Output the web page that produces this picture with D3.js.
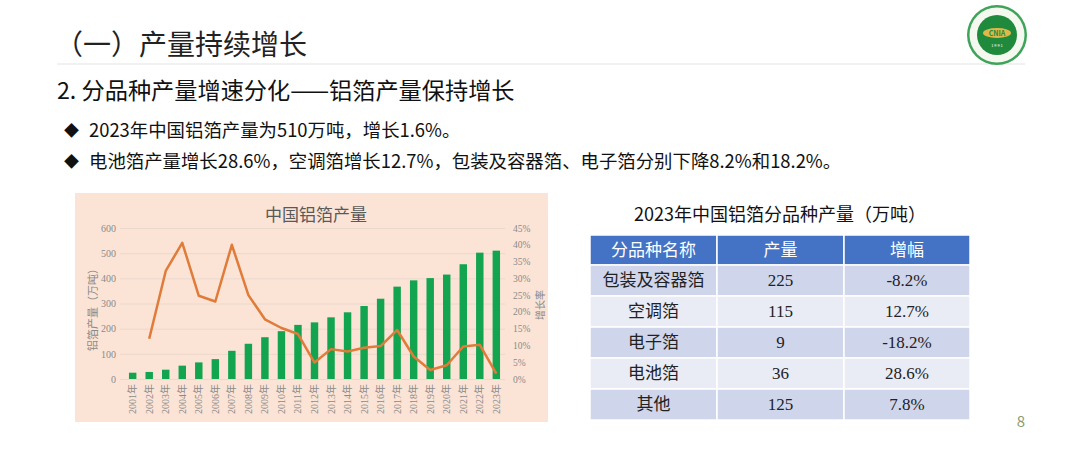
<!DOCTYPE html>
<html>
<head>
<meta charset="utf-8">
<script src="https://cdn.jsdelivr.net/npm/d3@7"></script>
<style>
  body { margin: 0; background: #fff; }
  svg { display: block; }
</style>
</head>
<body>
<svg id="slide" width="1080" height="450"></svg>
<script>
// chart data
const years = ['2001年','2002年','2003年','2004年','2005年','2006年','2007年','2008年','2009年','2010年','2011年','2012年',
  '2013年','2014年','2015年','2016年','2017年','2018年','2019年','2020年','2021年','2022年','2023年']
const output = [25, 28, 37, 53, 66, 79, 112, 140, 166, 190, 215, 225, 245, 265, 290, 319, 367, 392, 401, 415, 456, 502, 510]
// growth rate in %, no value for 2001
const growth = [null, 12.0, 32.2, 40.6, 24.8, 23.1, 40.0, 25.0, 17.8, 15.2, 13.4, 4.9, 8.9, 8.2, 9.3, 9.8, 14.6, 6.7, 2.7, 4.1, 9.7, 10.2, 1.6]
const leftTicks = [0, 100, 200, 300, 400, 500, 600]
const rightTicks = [0, 5, 10, 15, 20, 25, 30, 35, 40, 45]

// table data
const tableHead = ['分品种名称', '产量', '增幅']
const kinds = ['包装及容器箔', '空调箔', '电子箔', '电池箔', '其他']
const kindOutput = [225, 115, 9, 36, 125]
const kindGrowth = ['-8.2%', '12.7%', '-18.2%', '28.6%', '7.8%']

const bullets = ['2023年中国铝箔产量为510万吨，增长1.6%。',
  '电池箔产量增长28.6%，空调箔增长12.7%，包装及容器箔、电子箔分别下降8.2%和18.2%。']

const sans = '"Noto Sans CJK SC", "Noto Sans", sans-serif'
const serif = '"Liberation Serif", "DejaVu Serif", "Noto Sans CJK SC", serif'

const svg = d3.select('#slide')

// ---- slide header
svg.append('text')
  .attr('x', 55).attr('y', 55)
  .attr('font-family', sans).attr('font-size', 28).attr('fill', '#222')
  .text('（一）产量持续增长')

svg.append('line')
  .attr('x1', 57).attr('x2', 1025).attr('y1', 64).attr('y2', 64)
  .attr('stroke', '#e3e3e3').attr('stroke-width', 1)

svg.append('text')
  .attr('x', 57).attr('y', 99)
  .attr('font-family', sans).attr('font-size', 23.2).attr('fill', '#111')
  .text('2. 分品种产量增速分化——铝箔产量保持增长')

bullets.forEach((b, i) => {
  let y = 137 + i * 31
  svg.append('text')
    .attr('x', 64).attr('y', y - 1)
    .attr('font-family', sans).attr('font-size', 15).attr('fill', '#111')
    .text('◆')
  svg.append('text')
    .attr('x', 89).attr('y', y)
    .attr('font-family', sans).attr('font-size', 18.4).attr('fill', '#111')
    .text(b)
})

// logo
let logo = svg.append('g').attr('transform', 'translate(997, 35)')
logo.append('circle').attr('r', 30).attr('fill', '#3fa45a')
logo.append('circle').attr('r', 27.5).attr('fill', '#f4f8ef')
logo.append('circle').attr('r', 20).attr('fill', '#1f8a3c')
logo.append('ellipse').attr('rx', 14).attr('ry', 5).attr('cy', -2).attr('fill', '#e0b84a')
logo.append('text').attr('y', 1).attr('text-anchor', 'middle')
  .attr('font-family', sans).attr('font-size', 7).attr('font-weight', 'bold').attr('fill', '#1f8a3c')
  .text('CNIA')
logo.append('text').attr('y', 12).attr('text-anchor', 'middle')
  .attr('font-family', sans).attr('font-size', 4).attr('fill', '#fff')
  .text('1 9 9 1')

// page number
svg.append('text')
  .attr('x', 1021).attr('y', 427).attr('text-anchor', 'middle')
  .attr('font-family', sans).attr('font-size', 15).attr('fill', '#8c9a70')
  .text('8')

// ---- combo chart
const panel = { x: 75, y: 193, w: 473, h: 229 }
svg.append('rect')
  .attr('x', panel.x).attr('y', panel.y).attr('width', panel.w).attr('height', panel.h)
  .attr('fill', '#fbe4d6')

const plot = { left: 120, right: 505, top: 228, bottom: 379 }

let x = d3.scaleBand()
  .domain(years)
  .range([124, plot.right])
  .paddingInner(0.55)
  .paddingOuter(0.3)
let yL = d3.scaleLinear().domain([0, 600]).range([plot.bottom, plot.top])
let yR = d3.scaleLinear().domain([0, 45]).range([plot.bottom, plot.top])

// gridlines + left axis
let leftAxis = d3.axisLeft(yL)
  .tickValues(leftTicks)
  .tickSizeInner(-(plot.right - plot.left))
  .tickSizeOuter(0)
  .tickPadding(4)
let gl = svg.append('g')
  .attr('transform', `translate(${plot.left}, 0)`)
  .call(leftAxis)
gl.select('.domain').remove()
gl.selectAll('line').attr('stroke', '#ead8cc').attr('stroke-width', 1)
gl.selectAll('text')
  .attr('font-family', serif).attr('font-size', 10).attr('fill', '#8a8a8a')

let rightAxis = d3.axisRight(yR)
  .tickValues(rightTicks)
  .tickFormat(d => d + '%')
  .tickSize(0)
  .tickPadding(8)
let gr = svg.append('g')
  .attr('transform', `translate(${plot.right}, 0)`)
  .call(rightAxis)
gr.select('.domain').remove()
gr.selectAll('text')
  .attr('font-family', serif).attr('font-size', 9.5).attr('fill', '#8a8a8a')

// bars
svg.append('g').selectAll('rect')
  .data(output)
  .join('rect')
  .attr('x', (d, i) => x(years[i]))
  .attr('y', d => yL(d))
  .attr('width', x.bandwidth())
  .attr('height', d => yL(0) - yL(d))
  .attr('fill', '#12a44f')

// growth line
let line = d3.line()
  .defined(d => d != null)
  .x((d, i) => x(years[i]) + x.bandwidth() / 2)
  .y(d => yR(d))
svg.append('path')
  .attr('d', line(growth))
  .attr('fill', 'none')
  .attr('stroke', '#e07b3a')
  .attr('stroke-width', 2.5)
  .attr('stroke-linejoin', 'round')

// x axis labels, rotated
let xAxis = d3.axisBottom(x).tickSize(0).tickPadding(0)
let gx = svg.append('g')
  .attr('transform', `translate(0, ${plot.bottom + 5})`)
  .call(xAxis)
gx.select('.domain').remove()
gx.selectAll('text')
  .attr('font-family', serif).attr('font-size', 10).attr('fill', '#8a8a8a')
  .attr('transform', 'rotate(-90)')
  .attr('text-anchor', 'end')
  .attr('dy', '0.35em')
  .attr('x', 0).attr('y', 0)

// titles
svg.append('text')
  .attr('x', 316).attr('y', 221).attr('text-anchor', 'middle')
  .attr('font-family', sans).attr('font-size', 17).attr('fill', '#595959')
  .text('中国铝箔产量')

svg.append('text')
  .attr('transform', 'translate(93, 307) rotate(-90)')
  .attr('text-anchor', 'middle').attr('dy', '0.35em')
  .attr('font-family', serif).attr('font-size', 11).attr('fill', '#8a8a8a')
  .text('铝箔产量（万吨）')

svg.append('text')
  .attr('transform', 'translate(540, 305) rotate(-90)')
  .attr('text-anchor', 'middle').attr('dy', '0.35em')
  .attr('font-family', serif).attr('font-size', 10).attr('fill', '#8a8a8a')
  .text('增长率')

// ---- table
svg.append('text')
  .attr('x', 780).attr('y', 221).attr('text-anchor', 'middle')
  .attr('font-family', sans).attr('font-size', 18).attr('fill', '#111')
  .text('2023年中国铝箔分品种产量（万吨）')

const tb = { x: 590, y: 235, colW: [127, 127, 126], headH: 30, rowH: 31 }
let colX = d3.cumsum([0].concat(tb.colW)).map(v => tb.x + v)

let rows = kinds.map((k, i) => [k, String(kindOutput[i]), kindGrowth[i]])

let head = svg.append('g')
head.selectAll('rect')
  .data(tableHead)
  .join('rect')
  .attr('x', (d, i) => colX[i]).attr('y', tb.y)
  .attr('width', (d, i) => tb.colW[i]).attr('height', tb.headH)
  .attr('fill', '#4472c4').attr('stroke', '#fff').attr('stroke-width', 1.5)
head.selectAll('text')
  .data(tableHead)
  .join('text')
  .attr('x', (d, i) => colX[i] + tb.colW[i] / 2)
  .attr('y', tb.y + tb.headH / 2)
  .attr('dy', '0.35em').attr('text-anchor', 'middle')
  .attr('font-family', sans).attr('font-size', 17).attr('fill', '#fff')
  .text(d => d)

rows.forEach((r, ri) => {
  let y0 = tb.y + tb.headH + ri * tb.rowH
  let g = svg.append('g')
  g.selectAll('rect')
    .data(r)
    .join('rect')
    .attr('x', (d, i) => colX[i]).attr('y', y0)
    .attr('width', (d, i) => tb.colW[i]).attr('height', tb.rowH)
    .attr('fill', ri % 2 === 0 ? '#cfd5ea' : '#e9ebf5')
    .attr('stroke', '#fff').attr('stroke-width', 1.5)
  g.selectAll('text')
    .data(r)
    .join('text')
    .attr('x', (d, i) => colX[i] + tb.colW[i] / 2)
    .attr('y', y0 + tb.rowH / 2)
    .attr('dy', '0.35em').attr('text-anchor', 'middle')
    .attr('font-family', serif).attr('font-size', 17).attr('fill', '#222')
    .text(d => d)
})
</script>
</body>
</html>
